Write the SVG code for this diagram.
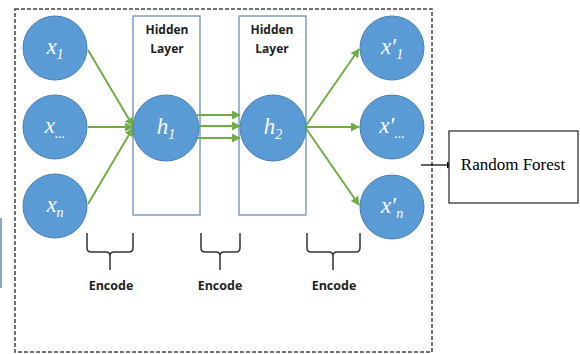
<svg xmlns="http://www.w3.org/2000/svg" width="580" height="354" viewBox="0 0 580 354">
<defs>
<style>
.node{fill:#5b9bd5;stroke:#4a7fb5;stroke-width:1}
.lbl{fill:#fff;font-family:"Liberation Serif",serif;font-style:italic;font-size:23px;text-anchor:middle}
.sub{font-size:14px}
.hid{fill:none;stroke:#7f9fc6;stroke-width:1.5}
.ht{font-family:"Open Sans","Liberation Sans",sans-serif;font-weight:bold;font-size:12px;fill:#222;text-anchor:middle}
.enc{font-family:"Open Sans","Liberation Sans",sans-serif;font-weight:bold;font-size:12.5px;fill:#222;text-anchor:middle}
.g{stroke:#70ad47;stroke-width:2;fill:none;marker-end:url(#ga)}
.brace{fill:none;stroke:#333;stroke-width:1.5}
</style>
<marker id="ga" viewBox="0 0 10 10" refX="9" refY="5" markerWidth="4.5" markerHeight="4.5" orient="auto" markerUnits="strokeWidth">
<path d="M0,0 L10,5 L0,10 z" fill="#70ad47"/>
</marker>
<marker id="ka" viewBox="0 0 10 10" refX="9" refY="5" markerWidth="6" markerHeight="6" orient="auto" markerUnits="strokeWidth">
<path d="M0,0 L10,5 L0,10 z" fill="#000"/>
</marker>
</defs>
<rect width="580" height="354" fill="#fff"/>
<rect x="0" y="218" width="2" height="70" fill="#8aa5c8"/>
<rect id="frame" x="15" y="9" width="417" height="343" fill="none" stroke="#444" stroke-width="1.5" stroke-dasharray="4,2"/>
<g id="hidden1"><rect class="hid" x="133" y="16" width="67" height="199"/><text class="ht" x="167" y="34">Hidden</text><text class="ht" x="167" y="53">Layer</text></g>
<g id="hidden2"><rect class="hid" x="239" y="16" width="67" height="199"/><text class="ht" x="272" y="34">Hidden</text><text class="ht" x="272" y="53">Layer</text></g>
<g id="connectors">
<line class="g" x1="88" y1="50" x2="133" y2="126"/>
<line class="g" x1="88" y1="127" x2="133" y2="127"/>
<line class="g" x1="88" y1="204" x2="133" y2="128"/>
<line class="g" x1="197" y1="115" x2="240" y2="115"/>
<line class="g" x1="199" y1="126" x2="240" y2="126"/>
<line class="g" x1="197" y1="138" x2="240" y2="138"/>
<line class="g" x1="305" y1="127" x2="359" y2="49"/>
<line class="g" x1="305" y1="127" x2="359" y2="127"/>
<line class="g" x1="305" y1="127" x2="359" y2="205"/>
<line x1="421" y1="165" x2="453" y2="165" stroke="#000" stroke-width="1.2" marker-end="url(#ka)"/>
</g>
<g id="x1"><circle class="node" cx="55" cy="48" r="32"/><text class="lbl" x="55" y="54">x<tspan class="sub" dy="5">1</tspan></text></g>
<g id="xdots"><circle class="node" cx="55" cy="127" r="32"/><text class="lbl" x="55" y="133">x<tspan class="sub" dy="5">...</tspan></text></g>
<g id="xn"><circle class="node" cx="55" cy="206" r="32"/><text class="lbl" x="55" y="212">x<tspan class="sub" dy="5">n</tspan></text></g>
<g id="h1"><circle class="node" cx="166" cy="128" r="33"/><text class="lbl" x="166" y="134">h<tspan class="sub" dy="5">1</tspan></text></g>
<g id="h2"><circle class="node" cx="273" cy="128" r="33"/><text class="lbl" x="273" y="134">h<tspan class="sub" dy="5">2</tspan></text></g>
<g id="y1"><circle class="node" cx="392" cy="48" r="32"/><text class="lbl" x="392" y="54">x′<tspan class="sub" dy="5">1</tspan></text></g>
<g id="ydots"><circle class="node" cx="392" cy="127" r="32"/><text class="lbl" x="392" y="133">x′<tspan class="sub" dy="5">...</tspan></text></g>
<g id="yn"><circle class="node" cx="392" cy="207" r="32"/><text class="lbl" x="392" y="213">x′<tspan class="sub" dy="5">n</tspan></text></g>
<g id="rf"><rect x="449" y="131" width="129" height="72" fill="#fff" stroke="#333" stroke-width="1.3"/><text x="513" y="170" font-family="Liberation Serif,serif" font-size="17" text-anchor="middle" fill="#000">Random Forest</text></g>
<g id="enc1"><path class="brace" d="M87,233 V248 Q87,252 91,252 H106 Q110,252 110,256 V270 M110,256 Q110,252 114,252 H129 Q133,252 133,248 V233"/><text class="enc" x="111" y="290">Encode</text></g>
<g id="enc2"><path class="brace" d="M201,233 V248 Q201,252 205,252 H216 Q220,252 220,256 V270 M220,256 Q220,252 224,252 H236 Q240,252 240,248 V233"/><text class="enc" x="220" y="290">Encode</text></g>
<g id="enc3"><path class="brace" d="M307,233 V248 Q307,252 311,252 H329 Q333,252 333,256 V270 M333,256 Q333,252 337,252 H356 Q360,252 360,248 V233"/><text class="enc" x="334" y="290">Encode</text></g>
</svg>
